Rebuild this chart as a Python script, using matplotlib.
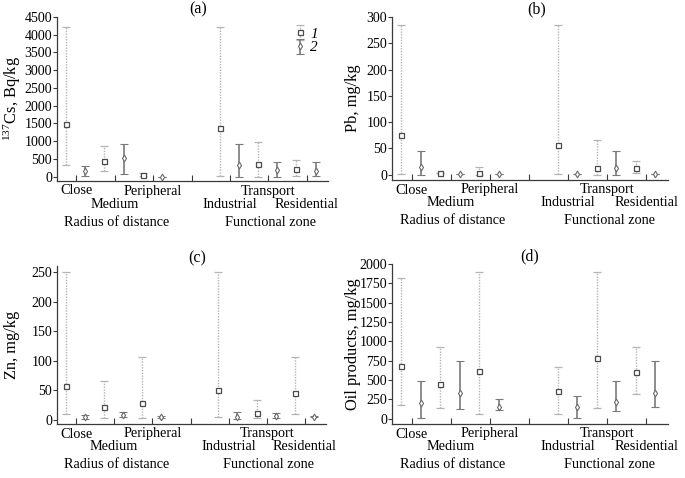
import matplotlib
matplotlib.use("Agg")
import matplotlib.pyplot as plt
from matplotlib.transforms import blended_transform_factory

plt.rcParams['font.family'] = ['Liberation Serif', 'DejaVu Serif']
plt.rcParams['mathtext.fontset'] = 'custom'
plt.rcParams['mathtext.rm'] = 'Liberation Serif'
plt.rcParams['mathtext.default'] = 'regular'

# categories (position 3 is an empty gap)
row1_labels = {0: "Close", 2: "Peripheral", 5: "Transport"}
row2_labels = {1: "Medium", 4: "Industrial", 6: "Residential"}
group_labels = {1.05: "Radius of distance", 5.05: "Functional zone"}
cat_pos = [0, 1, 2, 4, 5, 6]

# ---- panel (a) 137Cs, Bq/kg
a_s1_mean = [1480, 450, 55, 1380, 365, 225]
a_s1_low = [330, 160, 20, 20, 0, 10]
a_s1_high = [4230, 875, 105, 4230, 990, 460]
a_s2_mean = [170, 515, 0, 320, 188, 170]
a_s2_low = [15, 75, 0, -20, -10, 20]
a_s2_high = [310, 920, 0, 920, 425, 420]

# ---- panel (b) Pb, mg/kg
b_s1_mean = [76, 2.5, 4, 56, 12, 12]
b_s1_low = [2, 2.5, 0, 1, 0, 3]
b_s1_high = [285, 2.5, 15, 285, 66, 26]
b_s2_mean = [14, 1.5, 1, 1.5, 13, 1]
b_s2_low = [0, 1.5, 1, 1.5, 0, 1]
b_s2_high = [45, 1.5, 1, 1.5, 45, 1]

# ---- panel (c) Zn, mg/kg
c_s1_mean = [58, 21, 28, 50, 12, 45]
c_s1_low = [10, 3, 3, 4.5, 3, 10]
c_s1_high = [250, 65, 107, 250, 33, 107]
c_s2_mean = [4.5, 8.5, 5, 5.5, 7, 5.5]
c_s2_low = [2, 4, 3, 1, 3, 4]
c_s2_high = [9, 14, 7, 13.5, 11, 7]

# ---- panel (d) Oil products, mg/kg
d_s1_mean = [674, 452, 617, 361, 783, 600]
d_s1_low = [174, 139, 61, 61, 139, 313]
d_s1_high = [1813, 930, 1900, 661, 1900, 930]
d_s2_mean = [204, 335, 152, 148, 213, 335]
d_s2_low = [9, 126, 109, 9, 104, 152]
d_s2_high = [487, 748, 256, 287, 491, 748]

panels = [
    ("(a)", r"$^{137}$Cs, Bq/kg", (-120, 4500), list(range(0, 4501, 500)),
     (a_s1_mean, a_s1_low, a_s1_high), (a_s2_mean, a_s2_low, a_s2_high)),
    ("(b)", "Pb, mg/kg", (-10, 300), list(range(0, 301, 50)),
     (b_s1_mean, b_s1_low, b_s1_high), (b_s2_mean, b_s2_low, b_s2_high)),
    ("(c)", "Zn, mg/kg", (-7, 260), list(range(0, 251, 50)),
     (c_s1_mean, c_s1_low, c_s1_high), (c_s2_mean, c_s2_low, c_s2_high)),
    ("(d)", "Oil products, mg/kg", (-70, 2000), list(range(0, 2001, 250)),
     (d_s1_mean, d_s1_low, d_s1_high), (d_s2_mean, d_s2_low, d_s2_high)),
]

W, H = 685, 478
fig = plt.figure(figsize=(W / 100, H / 100), dpi=100)
# axes boxes in pixels: left, top, right, bottom
boxes = [(57, 17, 328, 181), (392, 17, 668, 180),
         (57, 266, 326, 424), (392, 264, 668, 424)]
ylabel_x = [12, 353, 12, 353]
title_x = [0.52, 0.525, 0.52, 0.5]

spine_c = "#3a3a3a"
c1_line = "#b4b4b4"
c1_mark = "#4a4a4a"
c2_line = "#7a7a7a"
c2_mark = "#6a6a6a"

for i, (title, ylabel, ylim, yticks, s1, s2) in enumerate(panels):
    l, t, r, b = boxes[i]
    ax = fig.add_axes([l / W, 1 - b / H, (r - l) / W, (b - t) / H])
    x1 = [p - 0.27 for p in cat_pos]
    x2 = [p + 0.23 for p in cat_pos]
    m1, lo1, hi1 = s1
    m2, lo2, hi2 = s2
    e1 = ax.errorbar(x1, m1, yerr=[[m - v for m, v in zip(m1, lo1)],
                                   [v - m for m, v in zip(m1, hi1)]],
                     fmt='s', ms=3.6, mfc='white', mec=c1_mark, mew=0.9,
                     ecolor=c1_line, elinewidth=1.0, capsize=2.6, capthick=0.9,
                     label="1", zorder=3)
    e1[2][0].set_linestyle((0, (1, 1)))
    e2 = ax.errorbar(x2, m2, yerr=[[m - v for m, v in zip(m2, lo2)],
                                   [v - m for m, v in zip(m2, hi2)]],
                     fmt='d', ms=3.4, mfc='white', mec=c2_mark, mew=0.8,
                     ecolor=c2_line, elinewidth=1.2, capsize=3.0, capthick=1.0,
                     label="2", zorder=3)
    ax.set_xlim(-0.5, 6.55)
    ax.set_ylim(*ylim)
    ax.set_yticks(yticks)
    ax.set_xticks(range(7))
    ax.set_xticklabels([])
    for s in ("top", "right"):
        ax.spines[s].set_visible(False)
    for s in ("left", "bottom"):
        ax.spines[s].set_color(spine_c)
        ax.spines[s].set_linewidth(0.9)
    ax.tick_params(axis='y', direction='out', length=3, width=0.8,
                   color=spine_c, labelsize=10, pad=0.5)
    ax.tick_params(axis='x', direction='in', length=4, width=0.8, color=spine_c)
    ax.set_title(title, fontsize=11.5, pad=2, x=title_x[i])
    trans = blended_transform_factory(ax.transData, ax.transAxes)
    for p, txt in row1_labels.items():
        ax.annotate(txt, xy=(p, 0), xycoords=trans, xytext=(0, -10),
                    textcoords='offset pixels', ha='center', va='center',
                    fontsize=10.3, annotation_clip=False)
    for p, txt in row2_labels.items():
        ax.annotate(txt, xy=(p, 0), xycoords=trans, xytext=(0, -23),
                    textcoords='offset pixels', ha='center', va='center',
                    fontsize=10.3, annotation_clip=False)
    for p, txt in group_labels.items():
        ax.annotate(txt, xy=(p, 0), xycoords=trans, xytext=(0, -41),
                    textcoords='offset pixels', ha='center', va='center',
                    fontsize=10.3, annotation_clip=False)
    fig.text(ylabel_x[i] / W, 1 - ((t + b) / 2) / H, ylabel, rotation=90,
             ha='center', va='center', fontsize=11.8)
    if i == 0:
        leg = ax.legend(loc='upper left', bbox_to_anchor=(0.845, 0.985),
                        frameon=False, handlelength=0.8, handletextpad=0.3,
                        labelspacing=0.0, borderpad=0.0, fontsize=11)
        for txt in leg.get_texts():
            txt.set_fontstyle('italic')

fig.savefig("out.png", dpi=100)
